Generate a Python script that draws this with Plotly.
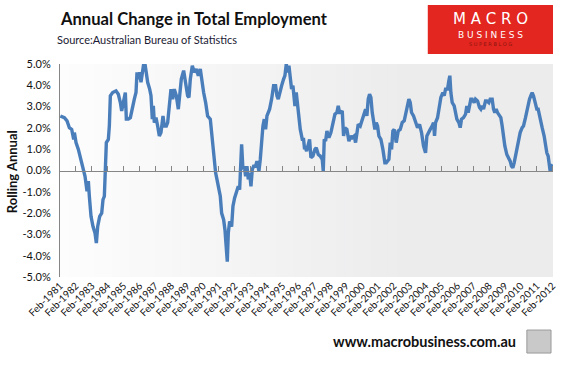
import plotly.graph_objects as go

# ---- data (decimal year, rolling annual % change) ----
years = [
    1981.023, 1981.275, 1981.442, 1981.589, 1981.736, 1981.862, 1981.904, 1982.008, 1982.155, 1982.323,
    1982.449, 1982.574, 1982.700, 1982.784, 1982.847, 1982.952, 1983.077, 1983.203, 1983.287, 1983.371,
    1983.497, 1983.623, 1983.706, 1983.790, 1983.853, 1983.916, 1984.042, 1984.105, 1984.168, 1984.314,
    1984.524, 1984.671, 1984.797, 1984.881, 1985.006, 1985.111, 1985.174, 1985.300, 1985.426, 1985.552,
    1985.677, 1985.782, 1985.845, 1985.929, 1986.013, 1986.096, 1986.201, 1986.264, 1986.348, 1986.432,
    1986.516, 1986.642, 1986.725, 1986.809, 1986.872, 1986.935, 1987.040, 1987.145, 1987.250, 1987.354,
    1987.480, 1987.564, 1987.690, 1987.774, 1987.899, 1987.983, 1988.088, 1988.193, 1988.319, 1988.445,
    1988.570,
    1988.633, 1988.780, 1988.906, 1989.031, 1989.115, 1989.199, 1989.325, 1989.451, 1989.577, 1989.702,
    1989.828, 1989.912, 1990.038, 1990.164, 1990.289, 1990.457, 1990.583, 1990.709, 1990.792, 1990.876,
    1991.002, 1991.086, 1991.170, 1991.296, 1991.379, 1991.463, 1991.526, 1991.589, 1991.673, 1991.799,
    1991.882, 1991.987, 1992.092, 1992.218, 1992.302, 1992.365, 1992.428, 1992.511, 1992.595, 1992.679,
    1992.763, 1992.847, 1992.931, 1993.015, 1993.099, 1993.182, 1993.308, 1993.392, 1993.518, 1993.602,
    1993.686, 1993.769, 1993.853, 1993.937, 1994.021, 1994.105, 1994.189, 1994.314, 1994.440, 1994.566,
    1994.650, 1994.734, 1994.818, 1994.943, 1995.069, 1995.153, 1995.237, 1995.321, 1995.405, 1995.489,
    1995.572, 1995.656, 1995.782, 1995.866, 1995.992, 1996.118, 1996.244, 1996.327, 1996.390,
    1996.411, 1996.516, 1996.621, 1996.704, 1996.788, 1996.914, 1997.040, 1997.124, 1997.250, 1997.375,
    1997.501, 1997.564, 1997.627, 1997.711, 1997.795, 1997.920, 1998.046, 1998.172, 1998.298, 1998.423,
    1998.507, 1998.591, 1998.675, 1998.759, 1998.843, 1998.926, 1999.052, 1999.178, 1999.304, 1999.388,
    1999.514, 1999.597, 1999.681, 1999.765, 1999.891, 2000.017, 2000.142, 2000.226, 2000.310, 2000.394,
    2000.478, 2000.562, 2000.646, 2000.730, 2000.813, 2000.897, 2000.981, 2001.065, 2001.191, 2001.317,
    2001.442, 2001.526, 2001.610, 2001.694, 2001.778, 2001.862, 2001.945, 2002.029, 2002.155, 2002.281,
    2002.407, 2002.533, 2002.658, 2002.784, 2002.868, 2002.952, 2003.036, 2003.119, 2003.245, 2003.371,
    2003.497, 2003.623, 2003.748, 2003.874,
    2004.000, 2004.084, 2004.168, 2004.294, 2004.420, 2004.503, 2004.566, 2004.629, 2004.755, 2004.881,
    2004.964, 2005.090, 2005.174, 2005.258, 2005.384, 2005.467, 2005.530, 2005.593, 2005.677, 2005.803,
    2005.887, 2005.971, 2006.097, 2006.181, 2006.264, 2006.390, 2006.516, 2006.599, 2006.683, 2006.767,
    2006.851, 2006.935, 2007.061, 2007.145, 2007.270, 2007.396, 2007.480, 2007.564, 2007.648, 2007.774,
    2007.857, 2007.983, 2008.067, 2008.193, 2008.277, 2008.360, 2008.444, 2008.528, 2008.654, 2008.738,
    2008.822, 2008.906, 2008.989, 2009.115, 2009.241, 2009.325, 2009.409, 2009.493, 2009.576, 2009.660,
    2009.744, 2009.870, 2009.954, 2010.080, 2010.164, 2010.289, 2010.415, 2010.541, 2010.625, 2010.709,
    2010.792, 2010.876, 2011.002, 2011.086, 2011.212, 2011.338, 2011.463, 2011.547, 2011.631, 2011.715,
    2011.799, 2011.841, 2011.925, 2012.008,
]
growth = [
    2.56, 2.48, 2.33, 2.01, 1.93, 1.46, 1.78, 1.31, 0.99, 0.52,
    0.05, -0.27, -0.97, -0.50, -1.21, -2.15, -2.63, -2.94, -3.41, -2.63,
    -2.15, -2.00, -1.37, -1.21, 0.05, 1.31, 1.46, 2.09, 3.51, 3.66,
    3.74, 3.58, 3.19, 2.80, 3.27, 3.66, 2.41, 2.41, 2.48, 3.03,
    3.35, 3.66, 4.61, 4.29, 4.61, 4.14, 4.76, 5.00, 5.00, 4.45,
    4.14, 3.82, 3.51, 2.41, 3.03, 2.25, 2.48, 2.09, 1.62, 1.78,
    2.56, 2.09, 2.09, 2.25, 3.19, 3.82, 3.35, 3.82, 3.51, 2.88,
    3.82,
    4.29, 4.69, 4.14, 3.51, 3.43, 4.29, 4.92, 4.61, 4.76, 4.45,
    4.76, 4.29, 3.66, 3.19, 2.56, 2.41, 1.31, 0.52, -0.11, -0.42,
    -1.05, -1.21, -2.00, -2.31, -2.78, -3.57, -4.28, -2.94, -2.39, -2.63,
    -1.68, -1.29, -0.97, -0.74, -0.90, 0.05, 1.23, 0.05, 0.20, -0.27,
    0.20, -0.42, -0.11, -0.74, 0.05, 0.20, 0.20, 0.44, -0.03, 0.52,
    1.46, 2.09, 2.41, 1.93, 2.56, 2.72, 2.88, 3.35, 3.98, 3.98,
    3.51, 3.35, 3.66, 3.98, 4.29, 4.45, 5.00, 4.61, 4.92, 4.14,
    3.82, 3.98, 3.03, 3.66, 2.72, 1.93, 1.46, 1.46, 0.99,
    1.15, 0.91, 1.15, 1.46, 0.60, 0.68, 0.99, 1.07, 0.75, 0.68,
    0.52, -0.03, 1.46, 1.38, 1.86, 1.54, 1.78, 2.25, 2.64, 2.72,
    3.03, 2.72, 2.72, 2.80, 1.62, 2.01, 1.93, 1.38, 1.62, 1.54,
    1.62, 1.31, 1.86, 2.17, 2.09, 2.41, 2.72, 2.88, 2.56, 3.35,
    3.58, 3.43, 2.72, 2.25, 1.93, 2.25, 2.09, 1.62, 1.46, 0.99,
    0.36, 0.36, 0.44, 0.52, 1.31, 0.99, 1.86, 1.93, 1.31, 1.86,
    1.93, 2.25, 2.33, 2.72, 3.03, 3.35, 3.19, 2.72, 2.56, 2.25,
    2.01, 2.17, 1.78, 1.15,
    0.83, 1.62, 1.78, 1.93, 2.09, 2.25, 1.62, 2.25, 2.48, 3.03,
    3.43, 3.66, 3.51, 3.82, 3.82, 4.21, 4.45, 3.66, 3.19, 3.03,
    2.72, 2.41, 2.25, 2.01, 2.41, 2.48, 2.64, 3.03, 2.72, 3.03,
    3.35, 3.35, 3.19, 3.35, 3.27, 2.96, 2.88, 3.03, 2.88, 3.27,
    3.27, 3.19, 3.35, 3.35, 2.88, 2.72, 2.88, 2.72, 2.56, 2.48,
    2.09, 1.54, 1.15, 0.75, 0.60, 0.44, 0.20, 0.13, 0.36, 0.68,
    0.99, 1.46, 1.78, 2.01, 2.09, 2.48, 3.03, 3.35, 3.51, 3.66,
    3.51, 3.27, 2.88, 2.88, 2.33, 2.01, 1.62, 1.15, 0.83, 0.68,
    0.20, -0.03, 0.20, 0.28,
]

tick_years = list(range(1981, 2013))
tick_labels = ["Feb-%d" % y for y in tick_years]
y_ticks = [5, 4, 3, 2, 1, 0, -1, -2, -3, -4, -5]
y_tick_labels = ["%.1f%%" % v for v in y_ticks]

FONT = "Lato"

fig = go.Figure()
fig.add_trace(go.Scatter(
    x=years, y=growth, mode="lines",
    line=dict(color="#4a7ebb", width=3.4), hoverinfo="skip", showlegend=False,
))
# dummy trace to carry the zero-line axis
fig.add_trace(go.Scatter(x=[1981, 2012], y=[None, None], xaxis="x2", yaxis="y",
                         showlegend=False, hoverinfo="skip"))

# gradient background (white -> light grey)
shapes = []
n = 40
for i in range(n):
    t0 = i / n * 0.7
    t1 = (i + 1) / n * 0.7 + 0.002
    f = (i + 0.5) / n
    c = int(round(253 - (253 - 236) * f))
    shapes.append(dict(type="rect", xref="x domain", yref="y domain",
                       x0=t0, x1=t1, y0=0, y1=1, layer="below",
                       line=dict(width=0), fillcolor="rgb(%d,%d,%d)" % (c, c, c + 1)))
# logo box
shapes.append(dict(type="rect", xref="paper", yref="paper", x0=0.746, x1=1.0,
                   y0=1.047, y1=1.277, line=dict(width=0), fillcolor="#e3261f"))
# wolf picture frame
shapes.append(dict(type="rect", xref="paper", yref="paper", x0=0.947, x1=0.996,
                   y0=-0.357, y1=-0.249, line=dict(width=1, color="#9a9a9a"),
                   fillcolor="#c9c9c9"))

annotations = [
    dict(text="<b>Annual Change in Total Employment</b>", xref="paper", yref="paper",
         x=-0.004, y=1.21, xanchor="left", yanchor="middle", showarrow=False,
         font=dict(family=FONT, size=16.6, color="#111111")),
    dict(text="Source:Australian Bureau of Statistics", xref="paper", yref="paper",
         x=-0.010, y=1.113, xanchor="left", yanchor="middle", showarrow=False,
         font=dict(family=FONT, size=11, color="#1a1a33")),
    dict(text="M A C R O", xref="paper", yref="paper", x=0.873, y=1.209,
         xanchor="center", yanchor="middle", showarrow=False,
         font=dict(family="DejaVu Sans", size=15, color="white")),
    dict(text="B U S I N E S S", xref="paper", yref="paper", x=0.873, y=1.136,
         xanchor="center", yanchor="middle", showarrow=False,
         font=dict(family="DejaVu Sans", size=9, color="white")),
    dict(text="S U P E R B L O G", xref="paper", yref="paper", x=0.873, y=1.094,
         xanchor="center", yanchor="middle", showarrow=False,
         font=dict(family="DejaVu Sans", size=5, color="#8a1510")),
    dict(text="<b>www.macrobusiness.com.au</b>", xref="paper", yref="paper",
         x=0.740, y=-0.305, xanchor="center", yanchor="middle", showarrow=False,
         font=dict(family=FONT, size=14.5, color="#111111")),
    dict(text="<b>Rolling Annual</b>", xref="paper", yref="paper", x=-0.097, y=0.493,
         xanchor="center", yanchor="middle", showarrow=False, textangle=-90,
         font=dict(family=FONT, size=13, color="#111111")),
]

fig.update_layout(
    width=564, height=367,
    margin=dict(l=60, r=11, t=64, b=90, autoexpand=False),
    paper_bgcolor="white", plot_bgcolor="#ececec",
    shapes=shapes, annotations=annotations,
    xaxis=dict(range=[1981, 2012.02], tickmode="array", tickvals=tick_years,
               ticktext=tick_labels, tickangle=-45, ticks="", showline=False,
               showgrid=False, zeroline=False, automargin=False,
               tickfont=dict(family=FONT, size=10, color="#111111")),
    xaxis2=dict(range=[1981, 2012.02], overlaying="x", anchor="free", position=0.5,
                side="top", tickmode="array", tickvals=tick_years[1:],
                ticks="outside", ticklen=5, tickcolor="#868686", tickwidth=1,
                showticklabels=False, showline=True, linecolor="#868686",
                linewidth=1, showgrid=False, zeroline=False, automargin=False),
    yaxis=dict(range=[-5, 5], tickmode="array", tickvals=y_ticks,
               ticktext=y_tick_labels, showline=True, linecolor="#868686",
               linewidth=1, showgrid=False, zeroline=False, ticks="",
               ticklabelstandoff=6, automargin=False,
               tickfont=dict(family=FONT, size=11, color="#111111")),
)

fig.write_html("out.html", config={"displayModeBar": False, "staticPlot": True},
               post_script="document.body.style.margin='0';")
